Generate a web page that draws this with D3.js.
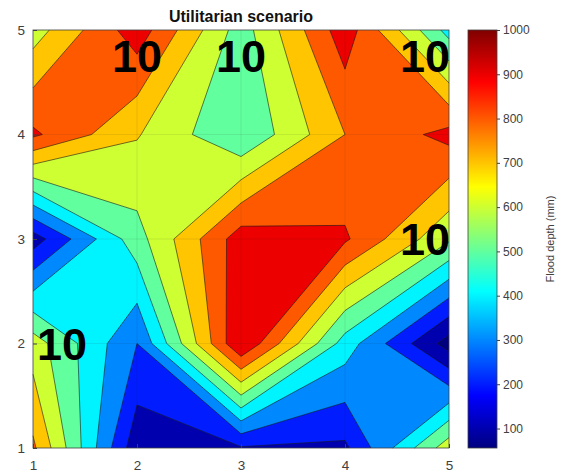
<!DOCTYPE html>
<html>
<head>
<meta charset="utf-8">
<script src="https://cdn.jsdelivr.net/npm/d3@7"></script>
<style>
  body { margin: 0; background: #fff; }
  text { font-family: "Liberation Sans", Arial, sans-serif; }
</style>
</head>
<body>
<div id="chart"></div>
<script>
const xValues = [1, 2, 3, 4, 5]
const yValues = [1, 2, 3, 4, 5]
// flood depth (mm) at each grid node, one row per y value (y = 1 first)
const depthRows = [
  [820, 130, 190, 180, 660],
  [650, 300, 1000, 455, 56],
  [150, 560, 955, 915, 615],
  [919, 708, 505, 800, 933],
  [652, 958, 551, 960, 460]
]
const levels = [100, 200, 300, 400, 500, 600, 700, 800, 900]
const colorTicks = [100, 200, 300, 400, 500, 600, 700, 800, 900, 1000]
const labels = [
  {x: 2, y: 5, text: '10'},
  {x: 3, y: 5, text: '10'},
  {x: 5, y: 5, text: '10'},
  {x: 5, y: 3, text: '10'},
  {x: 1, y: 2, text: '10'}
]

const width = 561
const height = 475
const plot = {left: 33, right: 449, top: 30, bottom: 448}
const bar = {left: 468, right: 497}
const axisColor = '#404040'

const svg = d3.select('#chart').append('svg')
    .attr('width', width)
    .attr('height', height)
    .attr('viewBox', [0, 0, width, height])

const x = d3.scaleLinear().domain(d3.extent(xValues)).range([plot.left, plot.right])
const y = d3.scaleLinear().domain(d3.extent(yValues)).range([plot.bottom, plot.top])

const [zMin, zMax] = d3.extent(depthRows.flat())
// MATLAB jet colormap as a piecewise linear scale
const jet = d3.scaleLinear()
    .domain([0, 0.125, 0.375, 0.625, 0.875, 1].map(t => zMin + t * (zMax - zMin)))
    .range(['#000080', '#0000ff', '#00ffff', '#ffff00', '#ff0000', '#800000'])

// marching squares per cell, saddles settled by the cell mean (like contourc)
function cellContour(i, j, t) {
  const corners = [[i, j], [i + 1, j], [i + 1, j + 1], [i, j + 1]]
  const v = corners.map(([a, b]) => depthRows[b][a])
  const pt = corners.map(([a, b]) => [xValues[a], yValues[b]])
  const up = v.map(d => d >= t)
  const cross = k => {
    const k2 = (k + 1) % 4
    const f = (t - v[k]) / (v[k2] - v[k])
    return [pt[k][0] + f * (pt[k2][0] - pt[k][0]), pt[k][1] + f * (pt[k2][1] - pt[k][1])]
  }
  const polys = []
  const segs = []
  const nUp = up.filter(Boolean).length
  if (nUp === 0) return {polys, segs}
  const saddle = nUp === 2 && up[0] === up[2]
  const joined = d3.mean(v) >= t
  if (saddle && !joined) {
    for (let k = 0; k < 4; k++) {
      if (!up[k]) continue
      const a = cross((k + 3) % 4), b = cross(k)
      polys.push([a, pt[k], b])
      segs.push([a, b])
    }
    return {polys, segs}
  }
  const poly = []
  const crossings = []
  for (let k = 0; k < 4; k++) {
    if (up[k]) poly.push(pt[k])
    if (up[k] !== up[(k + 1) % 4]) {
      const c = cross(k)
      poly.push(c)
      crossings.push(c)
    }
  }
  polys.push(poly)
  if (saddle) {
    for (let k = 0; k < 4; k++) {
      if (up[k]) continue
      segs.push([cross((k + 3) % 4), cross(k)])
    }
  } else if (crossings.length === 2) {
    segs.push(crossings)
  }
  return {polys, segs}
}

const bands = levels.map(t => {
  const polys = [], segs = []
  for (let j = 0; j < yValues.length - 1; j++) {
    for (let i = 0; i < xValues.length - 1; i++) {
      const r = cellContour(i, j, t)
      polys.push(...r.polys)
      segs.push(...r.segs)
    }
  }
  return {value: t, polys, segs}
})

const line = d3.line().x(d => x(d[0])).y(d => y(d[1]))

const fillGroup = svg.append('g')

fillGroup.append('rect')
    .attr('x', plot.left)
    .attr('y', plot.top)
    .attr('width', plot.right - plot.left)
    .attr('height', plot.bottom - plot.top)
    .attr('fill', jet(zMin))

fillGroup.selectAll('path.band')
  .data(bands)
  .join('path')
    .attr('class', 'band')
    .attr('d', d => d.polys.map(p => line(p) + 'Z').join(''))
    .attr('fill', d => jet(d.value))

fillGroup.selectAll('path.iso')
  .data(bands)
  .join('path')
    .attr('class', 'iso')
    .attr('d', d => d.segs.map(s => line(s)).join(''))
    .attr('fill', 'none')
    .attr('stroke', '#1a1a1a')
    .attr('stroke-width', 0.6)
    .attr('stroke-linejoin', 'round')

// faint grid
const grid = svg.append('g')
    .attr('stroke', '#262626')
    .attr('stroke-opacity', 0.15)
    .attr('stroke-width', 0.6)
grid.selectAll('line.gx')
  .data(xValues.slice(1, -1))
  .join('line')
    .attr('class', 'gx')
    .attr('x1', d => x(d)).attr('x2', d => x(d))
    .attr('y1', plot.top).attr('y2', plot.bottom)
grid.selectAll('line.gy')
  .data(yValues.slice(1, -1))
  .join('line')
    .attr('class', 'gy')
    .attr('y1', d => y(d)).attr('y2', d => y(d))
    .attr('x1', plot.left).attr('x2', plot.right)

// axes
const styleAxis = g => {
  g.select('.domain').remove()
  g.selectAll('.tick line').attr('stroke', axisColor)
  g.selectAll('.tick text').attr('fill', axisColor).style('font-size', '13.5px')
}

svg.append('g')
    .attr('transform', `translate(0,${plot.bottom})`)
    .call(d3.axisBottom(x).tickValues(xValues).tickSize(-4).tickPadding(12).tickFormat(d3.format('d')))
    .call(styleAxis)

svg.append('g')
    .attr('transform', `translate(${plot.left},0)`)
    .call(d3.axisLeft(y).tickValues(yValues).tickSize(-4).tickPadding(8).tickFormat(d3.format('d')))
    .call(styleAxis)

svg.append('rect')
    .attr('x', plot.left)
    .attr('y', plot.top)
    .attr('width', plot.right - plot.left)
    .attr('height', plot.bottom - plot.top)
    .attr('fill', 'none')
    .attr('stroke', axisColor)
    .attr('stroke-width', 0.8)

svg.append('text')
    .attr('x', (plot.left + plot.right) / 2)
    .attr('y', 22)
    .attr('text-anchor', 'middle')
    .attr('font-weight', 'bold')
    .style('font-size', '16px')
    .attr('fill', '#111')
    .text('Utilitarian scenario')

// big labels
svg.append('g').selectAll('text')
  .data(labels)
  .join('text')
    .attr('x', d => x(d.x) + (d.x === xValues[0] ? 4 : d.x === xValues[xValues.length - 1] ? 1 : 0))
    .attr('y', d => y(d.y))
    .attr('dy', d => d.y === yValues[yValues.length - 1] ? '0.93em' : '0.36em')
    .attr('text-anchor', d => d.x === xValues[0] ? 'start' : d.x === xValues[xValues.length - 1] ? 'end' : 'middle')
    .attr('font-weight', 'bold')
    .style('font-size', '45px')
    .attr('fill', '#000')
    .text(d => d.text)

// colorbar
const c = d3.scaleLinear().domain([zMin, zMax]).range([plot.bottom, plot.top])
const grad = svg.append('defs').append('linearGradient')
    .attr('id', 'jet-grad')
    .attr('x1', 0).attr('y1', 1).attr('x2', 0).attr('y2', 0)
grad.selectAll('stop')
  .data(jet.domain())
  .join('stop')
    .attr('offset', d => (d - zMin) / (zMax - zMin))
    .attr('stop-color', d => jet(d))

svg.append('rect')
    .attr('x', bar.left)
    .attr('y', plot.top)
    .attr('width', bar.right - bar.left)
    .attr('height', plot.bottom - plot.top)
    .attr('fill', 'url(#jet-grad)')
    .attr('stroke', axisColor)
    .attr('stroke-width', 0.8)

svg.append('g')
    .attr('transform', `translate(${bar.right},0)`)
    .call(d3.axisRight(c).tickValues(colorTicks).tickSize(3).tickPadding(3).tickFormat(d3.format('d')))
    .call(g => {
      g.select('.domain').remove()
      g.selectAll('.tick line').attr('stroke', axisColor)
      g.selectAll('.tick text').attr('fill', axisColor).style('font-size', '12px')
    })

svg.append('text')
    .attr('transform', `translate(554,${(plot.top + plot.bottom) / 2}) rotate(-90)`)
    .attr('text-anchor', 'middle')
    .style('font-size', '11px')
    .attr('fill', axisColor)
    .text('Flood depth (mm)')
</script>
</body>
</html>
